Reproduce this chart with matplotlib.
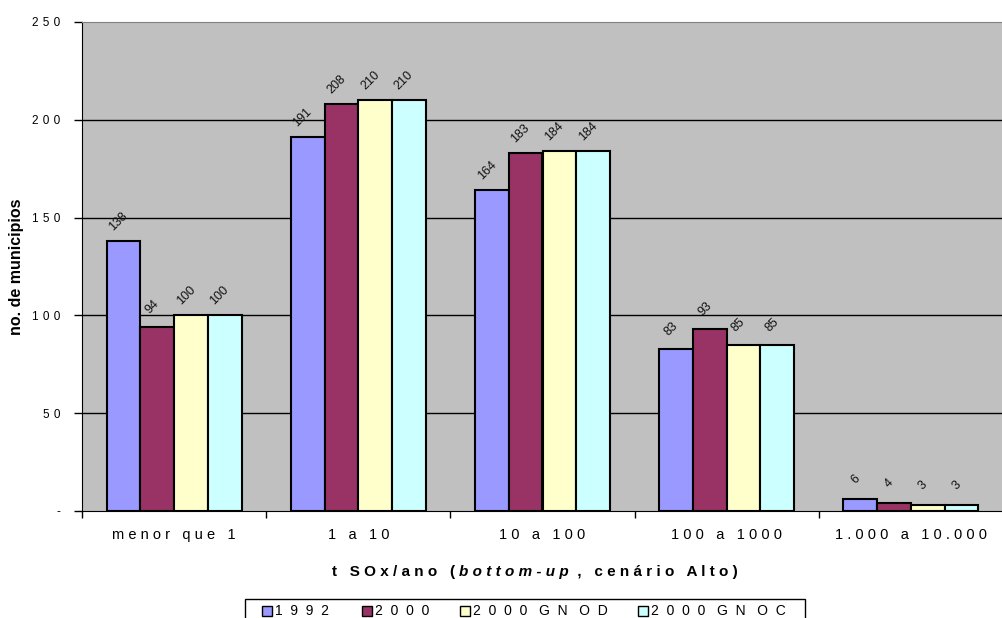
import matplotlib
matplotlib.use("Agg")
import matplotlib.pyplot as plt
import numpy as np
from matplotlib.patches import Rectangle

categories = ["menor que 1", "1 a 10", "10 a 100", "100 a 1000", "1.000 a 10.000"]
series_names = ["1992", "2000", "2000 GN OD", "2000 GN OC"]
v1992 = [138, 191, 164, 83, 6]
v2000 = [94, 208, 183, 93, 4]
v2000_od = [100, 210, 184, 85, 3]
v2000_oc = [100, 210, 184, 85, 3]
yticks = [0, 50, 100, 150, 200, 250]
ytick_labels = ["-", "50", "100", "150", "200", "250"]
colors = ["#9999FF", "#993366", "#FFFFCC", "#CCFFFF"]

plt.rcParams['font.family'] = ['Liberation Sans', 'DejaVu Sans']

def sp(s, sep=" ", wsep="   "):
    return wsep.join(sep.join(list(w)) for w in s.split(" "))

W, H = 1003, 618
fig = plt.figure(figsize=(W / 100, H / 100), dpi=100)
ax = fig.add_axes([82 / W, 1 - 511 / H, 1 - 82 / W, (511 - 22) / H])
ax.set_facecolor("#C0C0C0")

x = np.arange(len(categories))
w = 0.183
allv = [v1992, v2000, v2000_od, v2000_oc]
for i, (vals, c) in enumerate(zip(allv, colors)):
    pos = x + (i - 1.5) * w
    ax.bar(pos, vals, width=w, color=c, edgecolor="black", linewidth=1.5, zorder=3)
    for px_, v in zip(pos, vals):
        ax.annotate(str(v), (px_, v), xytext=(-3.6, 14.4), textcoords="offset points",
                    ha="center", va="center", rotation=45, rotation_mode="anchor",
                    fontsize=9, color="#111111", zorder=4)

ax.set_xlim(-0.5, len(categories) - 0.5)
ax.set_ylim(0, 250)
ax.set_yticks(yticks)
ax.set_yticklabels([sp(t, " \u200a") for t in ytick_labels], fontsize=8.5)
for yv in yticks[1:-1]:
    ax.axhline(yv, color="black", linewidth=1.0, zorder=1)
ax.set_xticks(x)
ax.set_xticklabels([sp(c, " ", "   ") for c in categories], fontsize=10.5)
ax.tick_params(axis="x", length=0, pad=12)
ax.set_xticks(np.arange(-0.5, len(categories)), minor=True)
ax.tick_params(axis="x", which="minor", length=5, width=1, direction="out")
ax.tick_params(axis="y", length=6, width=1, direction="out", pad=9.5)
ax.spines["left"].set_color("black")
ax.spines["bottom"].set_color("black")
ax.spines["top"].set_color("#808080")
ax.spines["right"].set_visible(False)

ax.set_ylabel("no. de municipios", fontsize=11.5, fontweight="bold")
ax.yaxis.set_label_coords(-58 / (W - 82), 0.5)

# x-axis title with italic part
fig.canvas.draw()
r = fig.canvas.get_renderer()
parts = [(sp("t SOx/ano (", " ", "   "), "normal"), (sp("bottom-up"), "italic"),
         (" " + sp(", cenário Alto)", " ", "   "), "normal")]
ytitle = 1 - 572 / H
texts = []
for s, st in parts:
    t = fig.text(0, ytitle, s, fontsize=11, fontweight="bold", style=st, va="center", ha="left")
    texts.append(t)
widths = [t.get_window_extent(renderer=r).width / W for t in texts]
gap = 4 / W
total = sum(widths) + gap * (len(texts) - 1)
xstart = 535 / W - total / 2
for t, wd in zip(texts, widths):
    t.set_x(xstart)
    xstart += wd + gap

# legend (Excel-style, box cut by bottom edge)
fig.patches.append(Rectangle((245 / W, -0.05), (805 - 245) / W, 0.05 + 1 - 599 / H,
                             transform=fig.transFigure, facecolor="white",
                             edgecolor="black", linewidth=1))
leg_x = [262, 362, 460, 638]
ly = 1 - 611 / H
for lx, name, c in zip(leg_x, series_names, colors):
    fig.patches.append(Rectangle((lx / W, ly - 5 / H), 10 / W, 10 / H,
                                 transform=fig.transFigure, facecolor=c,
                                 edgecolor="black", linewidth=1))
    fig.text((lx + 13) / W, ly, sp(name, "  ", "   "), fontsize=10, va="center", ha="left")

fig.savefig("out.png", dpi=100)
